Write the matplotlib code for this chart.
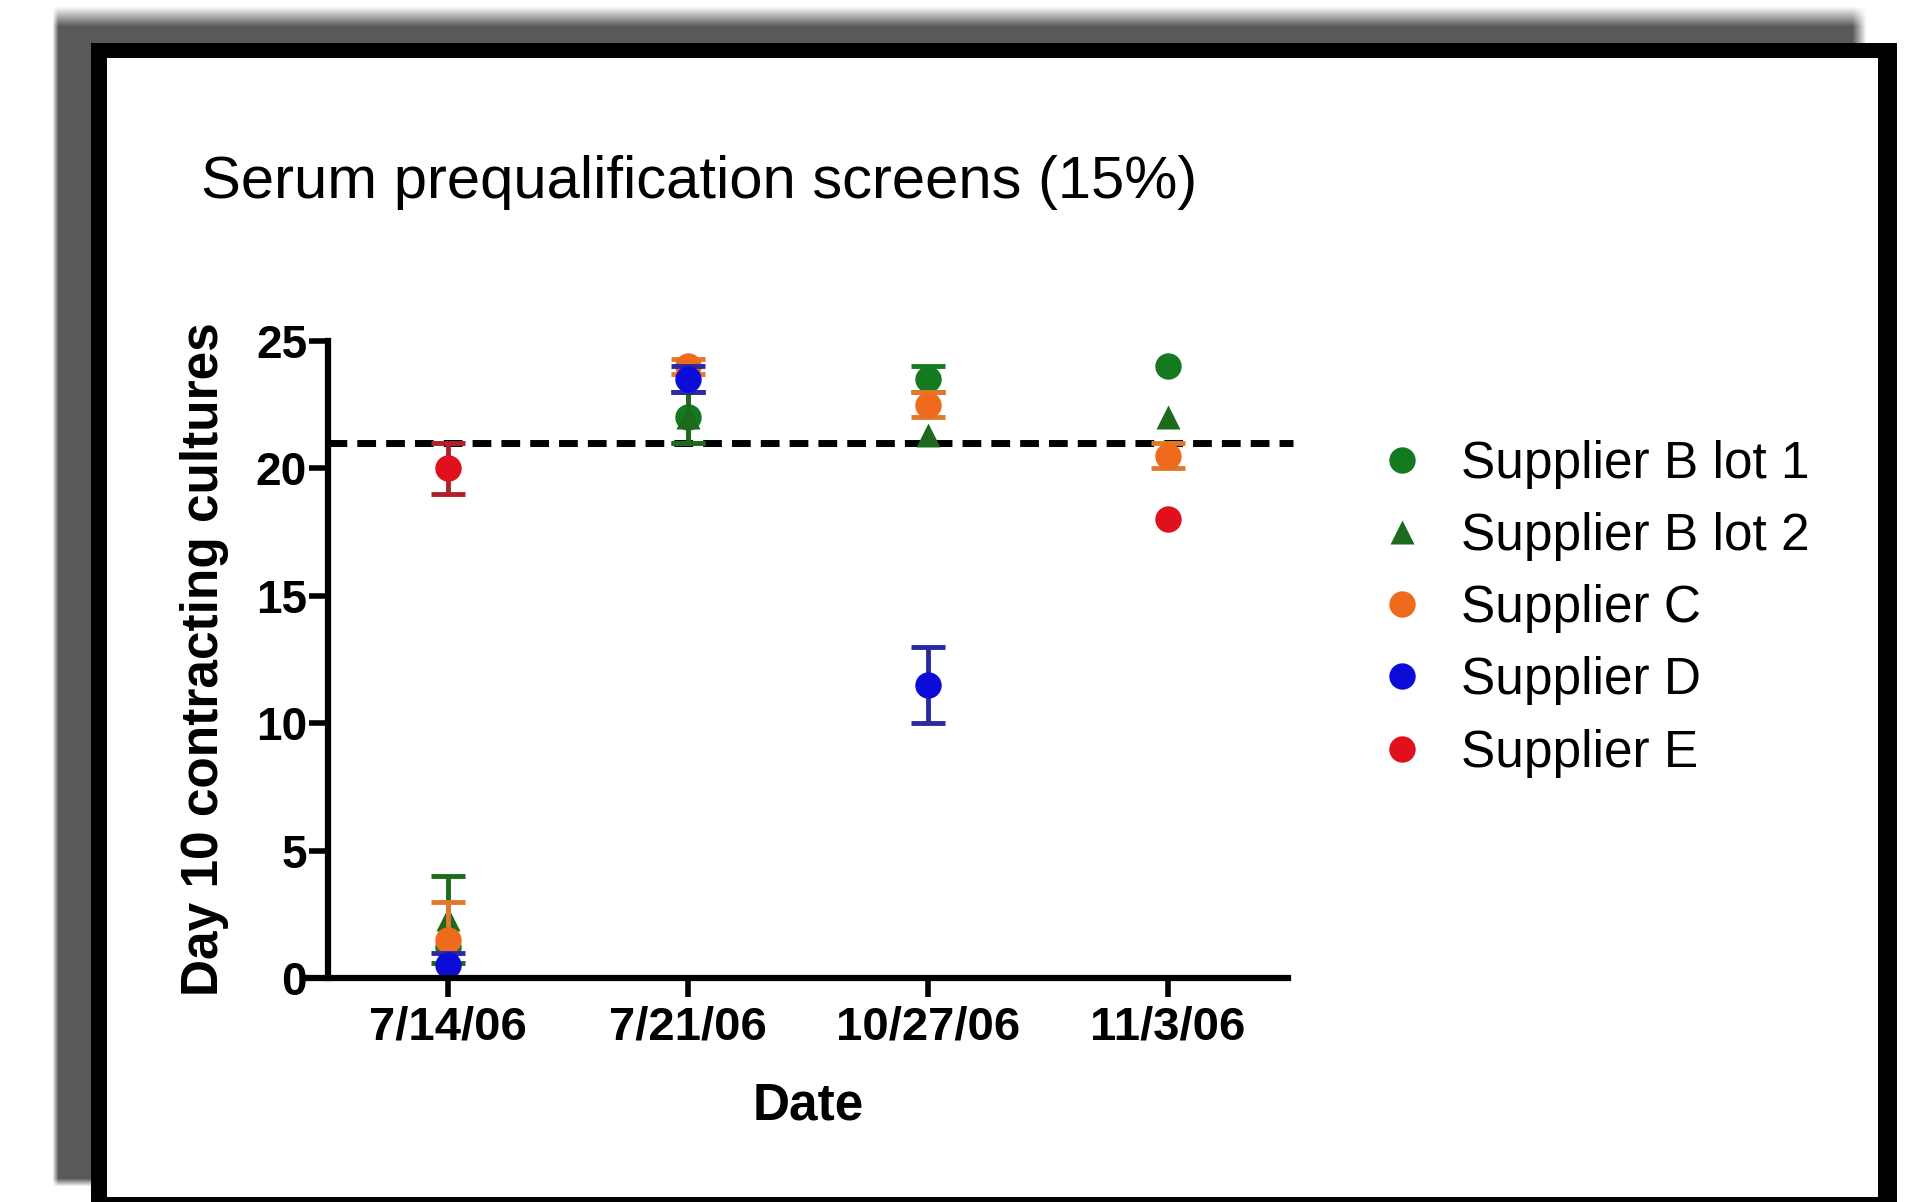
import numpy as np
import matplotlib
matplotlib.use('Agg')
import matplotlib.pyplot as plt
from matplotlib.patches import Rectangle

# ---- data ----
dates = ['7/14/06', '7/21/06', '10/27/06', '11/3/06']
threshold = 21
b1_mean = [1.2, 22.0, 23.5, 24.0]
b1_err = [np.nan, 1.0, 0.5, np.nan]
b2_mean = [2.3, 22.0, 21.3, 22.0]
b2_err = [1.7, 1.0, np.nan, np.nan]
c_mean = [1.5, 24.0, 22.5, 20.5]
c_err = [1.5, 0.3, 0.5, 0.5]
d_mean = [0.5, 23.5, 11.5, np.nan]
d_err = [0.5, 0.5, 1.5, np.nan]
e_mean = [20.0, np.nan, np.nan, 18.0]
e_err = [1.0, np.nan, np.nan, np.nan]
labels = ['Supplier B lot 1', 'Supplier B lot 2', 'Supplier C', 'Supplier D', 'Supplier E']

plt.rcParams['font.family'] = ['Liberation Sans', 'DejaVu Sans']

W, H = 1909, 1202
fig = plt.figure(figsize=(W / 100, H / 100), dpi=100)
fig.patch.set_facecolor('white')

# ---- decorative frame (pixel coordinates) ----
bg = fig.add_axes([0, 0, 1, 1], zorder=-10)
bg.set_xlim(0, W)
bg.set_ylim(H, 0)
bg.axis('off')
ys = np.arange(0, 1200)
xs = np.arange(40, 1880)
ay = np.clip((ys - 6) / 20.0, 0, 1) * np.clip((1186 - ys) / 8.0, 0, 1)
axx = np.clip((xs - 52) / 6.0, 0, 1) * np.clip((1866 - xs) / 14.0, 0, 1)
rgba = np.zeros((len(ys), len(xs), 4))
rgba[..., :3] = 0.35
rgba[..., 3] = np.outer(ay, axx)
bg.imshow(rgba, extent=(40, 1880, 1200, 0), aspect='auto', interpolation='bilinear', zorder=0)
bg.add_patch(Rectangle((91, 43), 1897 - 91, H - 43 + 5, facecolor='black', edgecolor='none', zorder=1))
bg.add_patch(Rectangle((107, 58), 1878 - 107, 1197 - 58, facecolor='white', edgecolor='none', zorder=2))

# ---- main axes ----
left_px, right_px, top_px, bot_px = 308, 1288, 341, 978
ax = fig.add_axes([left_px / W, 1 - bot_px / H, (right_px - left_px) / W, (bot_px - top_px) / H])
ax.set_facecolor('none')
x = np.arange(len(dates))
ax.set_xlim(-0.583, 3.5)
ax.set_ylim(0, 25)

ax.plot([-0.5, 3.52], [threshold, threshold], color='black', lw=5, ls=(0, (2.7, 1.45)),
        zorder=1, clip_on=False)

series = [
    (b1_mean, b1_err, 'o', '#137a1f', '#137a1f', 19),
    (b2_mean, b2_err, '^', '#1d6a1d', '#1d6a1d', 17),
    (c_mean, c_err, 'o', '#ee6a1c', '#e07a2a', 19),
    (d_mean, d_err, 'o', '#0c0cd8', '#2a2aa0', 19),
    (e_mean, e_err, 'o', '#e0101c', '#b0202a', 19),
]
handles = []
for i, (m, e, mk, col, ecol, ms) in enumerate(series):
    eb = ax.errorbar(x, m, yerr=e, fmt=mk, color=col, ecolor=ecol, ms=ms, mec='none',
                     elinewidth=3.5, capsize=12, capthick=3.5, zorder=3 + i, clip_on=False)
    handles.append(eb[0])

for s in ['top', 'right']:
    ax.spines[s].set_visible(False)
ax.spines['left'].set_position(('data', -0.5))
ax.spines['left'].set_linewidth(4.5)
ax.spines['bottom'].set_linewidth(4.5)
ax.spines['left'].set_zorder(10)
ax.spines['bottom'].set_zorder(10)

ax.set_xticks(x)
ax.set_xticklabels(dates)
ax.set_yticks([0, 5, 10, 15, 20, 25])
ax.tick_params(axis='both', length=14, width=4, direction='out', colors='black')
ax.tick_params(axis='y', pad=1, labelsize=33)
ax.tick_params(axis='x', pad=6, labelsize=34)
for t in ax.get_xticklabels() + ax.get_yticklabels():
    t.set_fontweight('bold')

ax.set_xlabel('Date', fontsize=37, fontweight='bold')
ax.xaxis.set_label_coords((808 - left_px) / (right_px - left_px), -0.162)
ax.set_ylabel('Day 10 contracting cultures', fontsize=37, fontweight='bold')
ax.yaxis.set_label_coords((229 - left_px) / (right_px - left_px), 0.5)

fig.text(201 / W, 1 - 198 / H, 'Serum prequalification screens (15%)', fontsize=43,
         ha='left', va='baseline')

leg = fig.legend(handles, labels, loc='upper left',
                 bbox_to_anchor=(1376 / W, 1 - 440 / H), bbox_transform=fig.transFigure,
                 frameon=False, fontsize=37, handlelength=1.0, handletextpad=0.65,
                 borderpad=0, borderaxespad=0, labelspacing=0.45, markerscale=1.0)

fig.savefig('out.png', dpi=100)
